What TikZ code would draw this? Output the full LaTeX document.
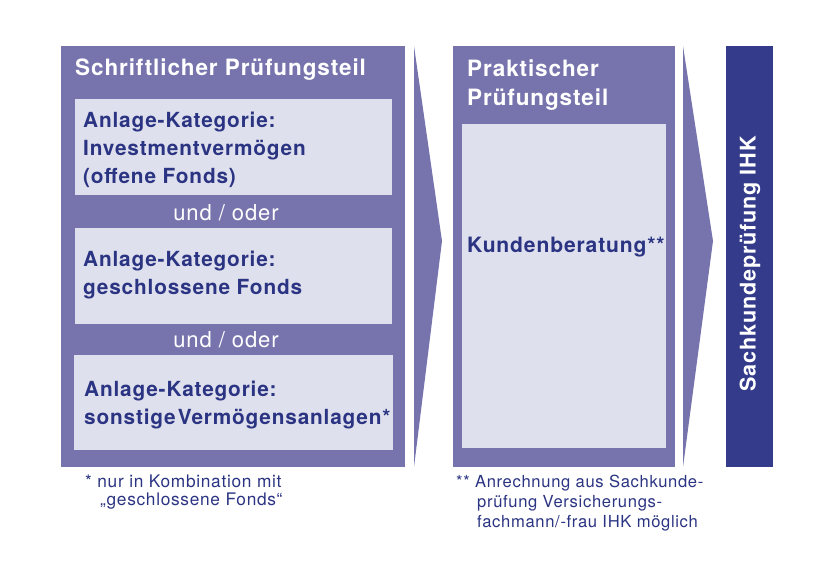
\documentclass[tikz,border=0pt]{standalone}
\usepackage{fontspec}
\setmainfont[LetterSpace=4]{TeX Gyre Heros}
\usetikzlibrary{positioning}

\definecolor{pruefLila}{RGB}{119,116,173}
\definecolor{pruefHell}{RGB}{223,224,237}
\definecolor{pruefDunkel}{RGB}{52,59,138}
\definecolor{pruefText}{RGB}{43,52,130}

\tikzset{
  panel/.style={fill=pruefLila, anchor=north west, inner sep=0pt},
  feld/.style={fill=pruefHell, anchor=north west, inner sep=0pt},
  titel/.style={text=white, font=\bfseries\fontsize{22.5}{29}\selectfont, anchor=base west, align=left, inner sep=0pt},
  kat/.style={text=pruefText, font=\bfseries\fontsize{20.8}{28}\selectfont, anchor=base west, align=left, inner sep=0pt},
  oder/.style={text=white, font=\fontsize{22}{24}\selectfont, anchor=base, inner sep=0pt},
  fussnote/.style={text=pruefText, font=\fontsize{17.3}{18}\selectfont, anchor=base west, align=left, inner sep=0pt}
}

\begin{document}
\begin{tikzpicture}[x=1pt,y=-1pt]
  \useasboundingbox (0,0) rectangle (825,567);

  % Schriftlicher Teil
  \node[panel, minimum width=344, minimum height=421] (schrift) at (61,46) {};
  \node[feld, minimum width=317, minimum height=96] (feldA) at (75,99) {};
  \node[feld, minimum width=317, minimum height=96] (feldB) at (75,228) {};
  \node[feld, minimum width=319, minimum height=95] (feldC) at (74,355) {};

  % mehrzeilige Texte: Anker an der letzten Grundlinie
  \node[titel] (schriftTitel) at (75,76) {Schriftlicher Prüfungsteil};
  \node[kat] (katA) at (83,183) {Anlage-Kategorie:\\Investmentvermögen\\(offene Fonds)};
  \node[oder] (oderA) at (226,220) {und / oder};
  \node[kat] (katB) at (83,294) {Anlage-Kategorie:\\geschlossene Fonds};
  \node[oder] (oderB) at (226,347) {und / oder};
  \node[kat] (katC) at (84,424) {Anlage-Kategorie:\\sonstige\hspace{2pt}Vermögensanlagen*};

  % Pfeile
  \fill[pruefLila] (414,46) -- (442,241) -- (414,467) -- cycle;
  \fill[pruefLila] (683,46) -- (713,241) -- (683,467) -- cycle;

  % Praktischer Teil
  \node[panel, minimum width=222, minimum height=421] (praxis) at (453,46) {};
  \node[feld, minimum width=204, minimum height=324] (feldK) at (462,124) {};
  \node[titel] (praxisTitel) at (467,106) {Praktischer\\Prüfungsteil};
  \node[kat, font=\bfseries\fontsize{21.1}{28}\selectfont] (kunde) at (467,252) {Kundenberatung**};

  % IHK
  \node[fill=pruefDunkel, anchor=north west, inner sep=0pt, minimum width=47, minimum height=421] (ihk) at (726,46) {};
  \node[rotate=90, text=white, font=\bfseries\fontsize{21.6}{24}\selectfont] (ihkText) at (750,264) {Sachkundeprüfung IHK};

  % Fussnoten
  \node[fussnote] (fnA) at (85,505) {* nur in Kombination mit\\\hspace*{15pt}„geschlossene Fonds“};
  \node[fussnote, font=\fontsize{16.6}{20}\selectfont] (fnB) at (456,527) {** Anrechnung aus Sachkunde-\\\hspace*{21pt}prüfung Versicherungs-\\\hspace*{21pt}fachmann/-frau IHK möglich};
\end{tikzpicture}
\end{document}
